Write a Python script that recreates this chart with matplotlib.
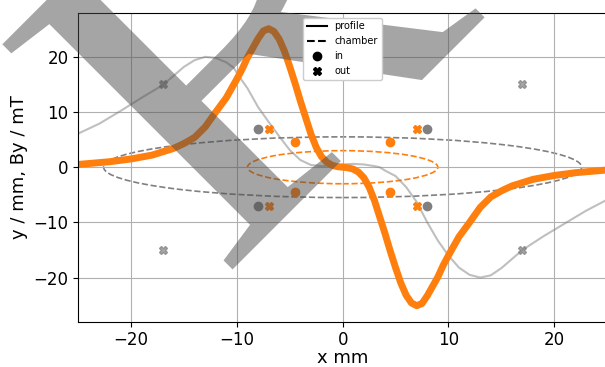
import numpy as np
import matplotlib
matplotlib.use("Agg")
import matplotlib.pyplot as plt
from matplotlib.patches import Ellipse, PathPatch
from matplotlib.lines import Line2D
from matplotlib.path import Path
from matplotlib.textpath import TextPath
from matplotlib.font_manager import FontProperties
import matplotlib.transforms as mtransforms

# field profile (orange, thick)
by_x = [-25, -22, -20, -18, -17, -16, -15, -14, -13, -12, -11, -10, -9.5, -9, -8.5, -8,
        -7.5, -7, -6.5, -6, -5.5, -5, -4.5, -4, -3.5, -3, -2.5, -2, -1.5, -1, -0.5, 0,
        0.5, 1, 1.5, 2, 2.5, 3, 3.5, 4, 4.5, 5, 5.5, 6, 6.5, 7, 7.5, 8, 8.5, 9, 9.5, 10,
        11, 12, 13, 14, 15, 16, 17, 18, 20, 22, 25]
by_y = [0.5, 1.0, 1.5, 2.2, 2.8, 3.4, 4.3, 5.4, 7.3, 10.0, 12.6, 16.0, 17.8, 19.9, 21.6, 23.3,
        24.7, 25.1, 24.6, 23.2, 21.0, 18.2, 15.2, 12.0, 9.0, 6.0, 3.6, 1.9, 0.9, 0.35, 0.1, 0.0,
        -0.1, -0.35, -0.9, -1.9, -3.6, -6.0, -9.0, -12.0, -15.2, -18.2, -21.0, -23.2, -24.6, -25.1, -24.7, -23.3, -21.6, -19.9, -17.8, -16.0,
        -12.6, -10.0, -7.3, -5.4, -4.3, -3.4, -2.8, -2.2, -1.5, -1.0, -0.5]

# second profile (light gray, thin)
pr_x = [-25, -23, -21, -19, -17, -15, -14, -13, -12, -11, -10.3, -9.7, -9, -8, -7, -6, -5, -4, -3,
        -2, -1, 0, 1, 2, 3, 3.5, 4, 5, 6, 7, 8, 9, 10, 11, 12, 13, 14, 15, 17, 19, 21, 23, 25]
pr_y = [6.1, 7.9, 10.2, 12.6, 14.9, 18.2, 19.4, 20.0, 19.8, 19.0, 18.0, 16.2, 14.3, 10.9, 8.2, 5.6,
        3.1, 1.3, 0.4, 0.2, 0.3, 0.5, 0.6, 0.5, 0.2, 0.0, -0.6, -1.6, -3.6, -6.3, -10.0, -13.3, -16.0,
        -18.2, -19.5, -20.0, -19.6, -18.3, -15.0, -12.5, -10.2, -7.9, -5.9]

# chamber half-axes: outer (gray), inner (orange)
chamber_outer = (22.6, 5.5)
chamber_inner = (9.0, 3.0)

# points
in_orange_x = [-4.5, 4.5, -4.5, 4.5]
in_orange_y = [4.5, 4.5, -4.5, -4.5]
out_orange_x = [-7, 7, -7, 7]
out_orange_y = [7, 7, -7, -7]
in_gray_x = [-8, 8, -8, 8]
in_gray_y = [7, 7, -7, -7]
out_gray_x = [-17, 17, -17, 17]
out_gray_y = [15, 15, -15, -15]

orange = '#ff7f0e'

fig = plt.figure(figsize=(6.05, 3.67), dpi=100)
ax = fig.add_axes([0.1294, 0.1234, 0.874, 0.842])

ax.plot(pr_x, pr_y, color='gray', alpha=0.5, lw=1.5)
ax.plot(by_x, by_y, color=orange, lw=5)

ax.add_patch(Ellipse((0, 0), 2 * chamber_outer[0], 2 * chamber_outer[1], fill=False,
                     ls='--', color='gray', lw=1.2))
ax.add_patch(Ellipse((0, 0), 2 * chamber_inner[0], 2 * chamber_inner[1], fill=False,
                     ls='--', color=orange, lw=1.2))

ax.plot(in_gray_x, in_gray_y, 'o', color='gray', ms=6)
ax.plot(out_gray_x, out_gray_y, 'X', color='gray', alpha=0.7, ms=6)
ax.plot(in_orange_x, in_orange_y, 'o', color=orange, ms=6)
ax.plot(out_orange_x, out_orange_y, 'X', color=orange, ms=6)

ax.set_xlim(-25, 25)
ax.set_ylim(-28, 28)
ax.grid(True)
ax.tick_params(labelsize=12)
ax.set_xlabel('x mm', fontsize=13, labelpad=0)
ax.set_ylabel('y / mm, By / mT', fontsize=13)

handles = [Line2D([], [], color='k', ls='-', lw=1.5),
           Line2D([], [], color='k', ls='--', lw=1.5),
           Line2D([], [], color='k', marker='o', ls='none'),
           Line2D([], [], color='k', marker='X', ls='none')]
ax.legend(handles, ['profile', 'chamber', 'in', 'out'], loc='upper center', fontsize=7,
          framealpha=1)

# big rotated "R" over the curves, below the legend (stretched a bit sideways)
tp = TextPath((0, 0), 'R', size=100, prop=FontProperties(family='Liberation Serif'))
v = tp.vertices[tp.codes != Path.CLOSEPOLY]
s = 322.0 / (v[:, 1].max() - v[:, 1].min())
trans = (mtransforms.Affine2D().translate(-v[:, 0].min(), -v[:, 1].min())
         .scale(s * 1.15, s).rotate_deg(45).translate(230, 367 - 272))
logo = PathPatch(tp, transform=trans, color='0.3', alpha=0.5, lw=0, zorder=4)
ax.add_artist(logo)
logo.set_clip_on(False)

fig.savefig('out.png', dpi=100)
